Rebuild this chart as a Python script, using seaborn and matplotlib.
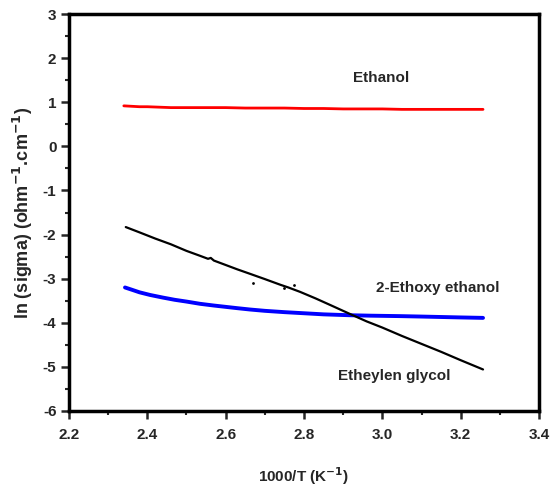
import matplotlib
matplotlib.use("Agg")
import matplotlib.pyplot as plt
import seaborn as sns
import pandas as pd
from matplotlib.ticker import MultipleLocator

sns.set_theme(style="ticks")
plt.rcParams['font.family'] = ['Liberation Sans', 'DejaVu Sans']
plt.rcParams['font.weight'] = 'bold'
plt.rcParams['mathtext.default'] = 'bf'

# Ethanol (red)
eth_x = [2.340, 2.36, 2.38, 2.40, 2.43, 2.46, 2.50, 2.55, 2.60, 2.65, 2.70, 2.75, 2.80,
         2.85, 2.90, 2.95, 3.00, 3.05, 3.10, 3.15, 3.20, 3.257]
eth_y = [0.92, 0.91, 0.90, 0.90, 0.89, 0.88, 0.88, 0.88, 0.88, 0.87, 0.87, 0.87, 0.86,
         0.86, 0.85, 0.85, 0.85, 0.84, 0.84, 0.84, 0.84, 0.84]

# 2-Ethoxy ethanol (blue)
etx_x = [2.343, 2.36, 2.38, 2.407, 2.44, 2.47, 2.50, 2.534, 2.57, 2.60, 2.63, 2.662,
         2.70, 2.75, 2.79, 2.85, 2.917, 2.97, 3.045, 3.10, 3.15, 3.20, 3.257]
etx_y = [-3.20, -3.25, -3.31, -3.37, -3.43, -3.48, -3.52, -3.57, -3.61, -3.64, -3.67, -3.70,
         -3.73, -3.76, -3.78, -3.81, -3.83, -3.84, -3.85, -3.86, -3.87, -3.88, -3.89]

# Etheylen glycol (black)
gly_x = [2.345, 2.38, 2.42, 2.46, 2.50, 2.534, 2.555, 2.562, 2.57, 2.60, 2.63, 2.662,
         2.70, 2.74, 2.76, 2.79, 2.83, 2.87, 2.917, 2.96, 3.00, 3.05, 3.10, 3.15, 3.20, 3.257]
gly_y = [-1.83, -1.95, -2.09, -2.22, -2.37, -2.48, -2.55, -2.53, -2.59, -2.69, -2.79, -2.89,
         -3.01, -3.14, -3.20, -3.30, -3.45, -3.61, -3.80, -3.97, -4.11, -4.30, -4.48, -4.66,
         -4.85, -5.06]
# stray points of the glycol run
stray_x = [2.67, 2.75, 2.775]
stray_y = [-3.10, -3.22, -3.15]

labels_txt = ["Ethanol", "2-Ethoxy ethanol", "Etheylen glycol"]
labels_x = [2.996, 3.142, 3.03]
labels_y = [1.55, -3.21, -5.21]

fig = plt.figure(figsize=(5.54, 4.88), dpi=100)
ax = fig.add_axes([0.1245, 0.158, 0.8485, 0.813])

sns.lineplot(x=eth_x, y=eth_y, ax=ax, color="#ff0000", linewidth=2.0, sort=False)
sns.lineplot(x=etx_x, y=etx_y, ax=ax, color="#0000ff", linewidth=2.8, sort=False)
sns.lineplot(x=gly_x, y=gly_y, ax=ax, color="black", linewidth=1.6, sort=False)
sns.scatterplot(x=stray_x, y=stray_y, ax=ax, color="black", s=4, linewidth=0)

for t, x, y in zip(labels_txt, labels_x, labels_y):
    ax.text(x, y, t, ha="center", va="center", fontsize=11, fontweight="bold")

ax.set_xlim(2.2, 3.4)
ax.set_ylim(-6, 3)
ax.xaxis.set_minor_locator(MultipleLocator(0.1))
ax.yaxis.set_minor_locator(MultipleLocator(0.5))
ax.set_xticks([2.2, 2.4, 2.6, 2.8, 3.0, 3.2, 3.4])
ax.set_xticklabels(["2.2", "2.4", "2.6", "2.8", "3.0", "3.2", "3.4"])
ax.set_yticks(list(range(-6, 4)))
ax.set_yticklabels([str(v) for v in range(-6, 4)])

ax.tick_params(which="major", direction="out", length=6, width=1.8, labelsize=11)
ax.tick_params(axis="x", which="major", pad=6)
ax.tick_params(axis="y", which="major", pad=3)
ax.tick_params(which="minor", direction="out", length=3, width=1.5)
for lab in ax.get_xticklabels() + ax.get_yticklabels():
    lab.set_fontweight("bold")
for s in ax.spines.values():
    s.set_linewidth(2.5)
    s.set_color("black")

ax.set_xlabel(r"1000/T (K$^{\mathbf{-1}}$)", fontsize=11, fontweight="bold", labelpad=17)
ax.set_ylabel(r"ln (sigma) (ohm$^{\mathbf{-1}}$.cm$^{\mathbf{-1}}$)", fontsize=13,
              fontweight="bold", labelpad=6)

fig.savefig("out.png", dpi=100)
